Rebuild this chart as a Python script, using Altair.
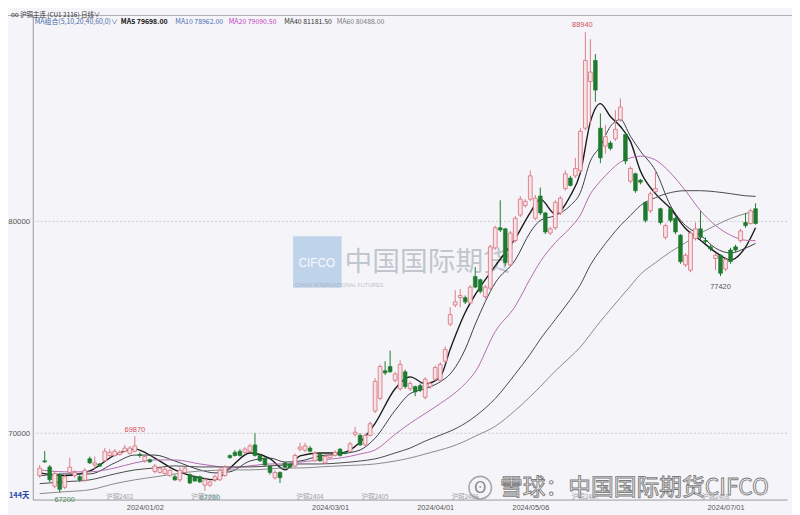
import altair as alt
import pandas as pd

# ---------------- data ----------------
opens = [68000, 68700, 68410, 67500, 68050, 67450, 68150, 68000, 67950, 67780,
         68800, 68500, 68550, 68700, 68950, 68950, 69000, 69150, 69050, 69150,
         69000, 68700, 68750, 68200, 68150, 68100, 68000, 67950, 67800, 68150,
         68050, 67950, 67950, 67550, 67550, 67800, 67800, 68000, 68950, 69100,
         69150, 69100, 69150, 69450, 68950, 68800, 68450, 67900, 68150, 68600,
         68550, 68450, 69250, 69200, 69300, 68700, 69000, 68600, 68850, 68950,
         69250, 69100, 69150, 69950, 69900, 69450, 69900, 71050, 71650, 72950,
         73150, 72500, 72100, 72900, 72100, 72200, 72250, 71700, 72200, 72550,
         72500, 73400, 75150, 76050, 76400, 76400, 76150, 77400, 77250, 76450,
         76850, 78750, 79700, 79650, 77950, 79100, 80300, 80750, 81050, 80150,
         81200, 80400, 79450, 79700, 80400, 81550, 82050, 82150, 82400, 84400,
         86600, 87600, 84400, 83550, 83700, 83900, 84800, 84100, 81900, 82250,
         81950, 80900, 80500, 81400, 80600, 79250, 80600, 80150, 79350, 77950,
         77700, 79200, 79650, 79100, 78800, 78250, 78400, 77750, 78650, 78800,
         79100, 79950, 79900, 80600]
highs = [68500, 69160, 68500, 68200, 68100, 68050, 68850, 68250, 68050, 68350,
         68900, 68900, 68600, 69300, 69250, 69250, 69200, 69450, 69400, 69870,
         69100, 69000, 68800, 68550, 68450, 68400, 68300, 68050, 68400, 68450,
         68100, 68000, 68000, 67900, 67800, 68050, 68350, 68500, 69000, 69200,
         69250, 69350, 69500, 70000, 69000, 68850, 68500, 68250, 68200, 68650,
         68600, 69050, 69550, 69550, 69400, 69150, 69100, 69000, 69050, 69200,
         69300, 69150, 69600, 70300, 70000, 70000, 70550, 72600, 73250, 73400,
         73900, 72900, 73450, 73000, 72450, 72250, 72350, 72650, 72450, 73200,
         73350, 74100, 75950, 76750, 76800, 76500, 77000, 77850, 77300, 77000,
         78900, 79800, 81000, 79700, 79550, 80250, 81200, 81050, 82400, 81250,
         81600, 80450, 79750, 81000, 81200, 82400, 82150, 83000, 84400, 88940,
         88600, 87900, 85100, 84550, 83800, 85250, 85800, 84200, 82600, 82300,
         82000, 80950, 81400, 82400, 80650, 79900, 80700, 80200, 79400, 78500,
         79550, 79950, 80500, 79250, 78900, 78500, 78450, 78300, 78750, 78900,
         79650, 80400, 80600, 80850]
lows = [67900, 68600, 67700, 67400, 67200, 67350, 68100, 67900, 67700, 67700,
        68550, 68300, 68400, 68650, 68850, 68900, 68950, 69100, 69000, 69100,
        68850, 68600, 68600, 68100, 68100, 68000, 67950, 67750, 67700, 68100,
        67600, 67700, 67650, 67280, 67450, 67700, 67750, 67950, 68800, 68900,
        68900, 69000, 69100, 68900, 68650, 68450, 68050, 67800, 67650, 68350,
        68350, 68400, 69150, 69100, 69100, 68650, 68650, 68550, 68800, 68900,
        68900, 69000, 69100, 69850, 69400, 69400, 69850, 70950, 71550, 72750,
        72850, 72400, 72000, 72100, 72000, 71750, 71950, 71600, 72100, 72450,
        72400, 73300, 75050, 75950, 75950, 76100, 76100, 76850, 76600, 76350,
        76750, 78650, 79500, 77900, 77850, 79000, 80200, 80650, 80950, 80050,
        80300, 79400, 79350, 79600, 80300, 81450, 81650, 82050, 82300, 84300,
        84550, 85650, 82750, 83200, 83350, 83800, 84700, 82700, 81800, 81350,
        81750, 79950, 80400, 81350, 79850, 79150, 79950, 79400, 78000, 77850,
        77600, 79100, 79150, 78950, 78600, 77700, 77420, 77650, 78000, 78550,
        79000, 79700, 79850, 79850]
closes = [68350, 68650, 67800, 68100, 67350, 67950, 68400, 68150, 67800, 68250,
          68600, 68600, 68450, 69150, 69100, 69150, 69100, 69300, 69300, 69400,
          68950, 68900, 68650, 68450, 68350, 68300, 68250, 67800, 68250, 68350,
          67650, 67750, 67700, 67800, 67700, 67950, 68250, 68400, 68850, 68950,
          68950, 69250, 69400, 68950, 68700, 68500, 68150, 68150, 67900, 68400,
          68400, 68950, 69350, 69400, 69150, 69050, 68700, 68900, 68950, 69100,
          68950, 69050, 69500, 70050, 69450, 69900, 70450, 72450, 73150, 72850,
          72900, 72800, 73250, 72200, 72350, 71950, 72050, 72550, 72350, 73100,
          73250, 73950, 75600, 76200, 76500, 76200, 76900, 76900, 76700, 76900,
          78800, 79700, 79600, 78050, 79450, 80150, 81050, 80950, 82150, 81100,
          80400, 79500, 79650, 80900, 81100, 82250, 81700, 82500, 84250, 87600,
          87050, 86200, 83000, 84000, 83450, 84350, 85400, 82850, 82500, 81450,
          81850, 80050, 81300, 81550, 79950, 79800, 80050, 79500, 78100, 78400,
          79450, 79650, 79250, 79050, 78700, 78400, 77550, 78200, 78100, 78650,
          79550, 79800, 80500, 79900]

ma_idx = [0, 5, 10, 15, 19, 23, 27, 32, 35, 38, 42, 46, 49, 52, 56, 60, 64, 67,
          71, 74, 77, 80, 82, 85, 87, 91, 95, 98, 100, 103, 106, 108, 110, 112,
          114, 116, 118, 120, 123, 126, 129, 132, 135, 138, 141, 143]
ma5 = [68130, 68000, 68220, 68970, 69250, 68830, 68270, 67900, 67800, 68360,
       69070, 68800, 68270, 68930, 69070, 69070, 69580, 70470, 72100, 72660,
       72340, 72660, 73970, 75700, 76540, 77900, 79200, 80420, 81050, 80350,
       81210, 82290, 84700, 85560, 84950, 84480, 83780, 82380, 81310, 80610,
       79670, 79110, 78550, 78180, 78790, 79698]
ma10 = [67990, 68080, 68080, 68600, 68970, 68970, 68690, 68270, 68130, 68180,
        68690, 68830, 68640, 68690, 68930, 69020, 69210, 69770, 71080, 71870,
        72100, 72430, 72800, 73970, 75140, 77100, 78180, 79490, 80050, 80280,
        80750, 81360, 82850, 83550, 84480, 84810, 84020, 83320, 82400, 80750,
        79810, 79350, 78740, 78510, 78740, 78962]
ma20 = [68270, 68180, 68180, 68360, 68600, 68740, 68740, 68550, 68450, 68360,
        68460, 68550, 68550, 68640, 68740, 68830, 69020, 69210, 69950, 70470,
        70930, 71400, 71730, 72340, 72900, 74800, 76000, 77300, 78100, 79000,
        79700, 80300, 81300, 81900, 82400, 82800, 83000, 83080, 82900, 82290,
        81450, 80510, 79810, 79350, 79110, 79090]
ma40 = [67620, 67710, 67800, 68080, 68270, 68360, 68460, 68410, 68410, 68410,
        68410, 68460, 68500, 68550, 68550, 68600, 68690, 68790, 69070, 69300,
        69630, 69910, 70100, 70470, 70800, 71640, 72800, 73740, 74440, 75370,
        76310, 77010, 77940, 78640, 79250, 79810, 80280, 80750, 81120, 81360,
        81450, 81450, 81400, 81310, 81210, 81181]
ma60 = [67150, 67240, 67330, 67620, 67800, 67940, 68080, 68220, 68250, 68270,
        68270, 68320, 68360, 68360, 68410, 68460, 68500, 68550, 68690, 68830,
        69020, 69210, 69350, 69630, 69860, 70330, 71080, 71730, 72200, 72940,
        73600, 74070, 74670, 75280, 75840, 76400, 76950, 77500, 78050, 78560,
        78990, 79440, 79810, 80140, 80370, 80488]
ma_names = ["MA5", "MA10", "MA20", "MA40", "MA60"]
ma_colors = ["#1a1a1a", "#3c3c48", "#b46aae", "#4a4a4a", "#8a8a8a"]
ma_widths = [1.4, 1.0, 1.0, 1.0, 1.0]

price_ticks = [70000, 80000]
date_ticks = [21, 58, 79, 98, 137]
date_labels = ["2024/01/02", "2024/03/01", "2024/04/01", "2024/05/06", "2024/07/01"]

ext_idx = [109, 19, 33, 4, 136]
ext_val = [88940, 69870, 67280, 67200, 77420]
ext_dy = [-7, -6, 7, 8, 11]
ext_dx = [-3, 0, 5, 5, 0]
ext_col = ["#d2505e", "#d2505e", "#5b8f96", "#4d8a5a", "#555555"]

roll_idx = [16, 33, 54, 67, 85, 109, 135]
roll_text = ["沪铜2402", "沪铜2403", "沪铜2404", "沪铜2405", "沪铜2406", "沪铜2407", "沪铜2408"]

header_title = "oo 沪铜主连 (CU1 2116)  日线∨"
header_ma = ["MA组合(5,10,20,40,60,0)∨", "MA5 79698.00", "MA10 78962.00",
             "MA20 79090.50", "MA40 81181.50", "MA60 80488.00"]
header_ma_x = [2, 89, 144, 198, 254, 307]
header_ma_col = ["#4a6aa8", "#111111", "#4f6db0", "#c040c0", "#333333", "#7a7a7a"]

# ---------------- chart ----------------
N = len(opens)
df = pd.DataFrame({"i": list(range(N)), "open": opens, "high": highs,
                   "low": lows, "close": closes})

xs = alt.Scale(domain=[-0.4, 148.3], nice=False, zero=False)
ys = alt.Scale(domain=[66869, 89720], nice=False, zero=False)

label_expr = " : ".join(
    f"datum.value == {t} ? '{l}'" for t, l in zip(date_ticks, date_labels)) + " : ''"
x_axis = alt.Axis(values=date_ticks, labelExpr=label_expr, title=None, grid=False,
                  ticks=False, domainColor="#9a9a9a", labelColor="#555555",
                  labelFontSize=7.5, labelFont="Liberation Sans", labelPadding=4,
                  labelFlush=False)
y_axis = alt.Axis(values=price_ticks, format="d", title=None, grid=False,
                  ticks=False, domainColor="#9a9a9a", labelColor="#555555",
                  labelFontSize=8, labelFont="Liberation Sans", labelPadding=3)


def X(field):
    return alt.X(field, scale=xs, axis=x_axis)


def Y(field):
    return alt.Y(field, scale=ys, axis=y_axis)


UP_STROKE = "#d97b86"
UP_FILL = "#f8e4e7"
DOWN = "#1d7a2e"

layers = []

# grid lines
grid = alt.Chart(pd.DataFrame({"p": price_ticks})).mark_rule(
    color="#c9c9cf", strokeDash=[2, 2], strokeWidth=1).encode(y=Y("p:Q"))
layers.append(grid)

# top frame line
layers.append(alt.Chart(pd.DataFrame({"a": [0]})).mark_rule(color="#b0b0b6").encode(
    x=alt.value(-25), x2=alt.value(770), y=alt.value(0)))

# center watermark
wm = pd.DataFrame({"t": ["CIFCO"]})
layers.append(alt.Chart(wm).mark_rect(color="#6f9fd8", opacity=0.4).encode(
    x=alt.value(263), x2=alt.value(312), y=alt.value(223), y2=alt.value(275)))
layers.append(alt.Chart(wm).mark_text(color="#ffffff", fontSize=12, font="Liberation Sans",
                                      opacity=0.9).encode(
    x=alt.value(287), y=alt.value(250), text="t:N"))
layers.append(alt.Chart(pd.DataFrame({"t": ["中国国际期货"]})).mark_text(
    color="#8f96a3", fontSize=28, font="Noto Sans CJK SC", align="left", opacity=0.5).encode(
    x=alt.value(315), y=alt.value(250), text="t:N"))
layers.append(alt.Chart(pd.DataFrame({"t": ["CHINA INTERNATIONAL FUTURES"]})).mark_text(
    color="#9aa0aa", fontSize=5.5, font="Liberation Sans", align="left", opacity=0.6).encode(
    x=alt.value(265), y=alt.value(272), text="t:N"))

# MA lines
for name, vals, col, w in zip(ma_names, [ma5, ma10, ma20, ma40, ma60], ma_colors, ma_widths):
    mdf = pd.DataFrame({"i": ma_idx, "v": vals})
    layers.append(alt.Chart(mdf).mark_line(color=col, strokeWidth=w, interpolate="monotone")
                  .encode(x=X("i:Q"), y=Y("v:Q")))

# candles
base = alt.Chart(df)
up_f = "datum.close >= datum.open"
dn_f = "datum.close < datum.open"
layers.append(base.transform_filter(up_f).mark_rule(color=UP_STROKE, strokeWidth=1)
              .encode(x=X("i:Q"), y=Y("low:Q"), y2="high:Q"))
layers.append(base.transform_filter(dn_f).mark_rule(color=DOWN, strokeWidth=1)
              .encode(x=X("i:Q"), y=Y("low:Q"), y2="high:Q"))
layers.append(base.transform_filter(up_f).mark_bar(size=3.8, fill=UP_FILL, stroke=UP_STROKE,
                                                   strokeWidth=0.9)
              .encode(x=X("i:Q"), y=Y("open:Q"), y2="close:Q"))
layers.append(base.transform_filter(dn_f).mark_bar(size=3.8, fill=DOWN, stroke=DOWN,
                                                   strokeWidth=0.6)
              .encode(x=X("i:Q"), y=Y("open:Q"), y2="close:Q"))

# extreme labels
for k in range(len(ext_idx)):
    edf = pd.DataFrame({"i": [ext_idx[k]], "v": [ext_val[k]], "t": [str(ext_val[k])]})
    layers.append(alt.Chart(edf).mark_text(color=ext_col[k], fontSize=7.5,
                                           font="Liberation Sans", dy=ext_dy[k], dx=ext_dx[k])
                  .encode(x=X("i:Q"), y=Y("v:Q"), text="t:N"))

# contract roll labels
rdf = pd.DataFrame({"i": roll_idx, "t": roll_text})
layers.append(alt.Chart(rdf).mark_text(color="#a0a0a0", fontSize=6.5, font="Noto Sans CJK SC")
              .encode(x=X("i:Q"), y=alt.value(486), text="t:N"))

# left bottom label
layers.append(alt.Chart(pd.DataFrame({"t": ["144天"]})).mark_text(
    color="#2a4aa8", fontSize=7.5, font="Noto Sans CJK SC", align="left", fontWeight="bold").encode(
    x=alt.value(-24), y=alt.value(485), text="t:N"))

# bottom watermark
layers.append(alt.Chart(pd.DataFrame({"t": ["X"]})).mark_point(
    shape="circle", size=520, filled=False, color="#8a8a8a", strokeWidth=1.6).encode(
    x=alt.value(452), y=alt.value(477)))
layers.append(alt.Chart(pd.DataFrame({"t": ["ʘ"]})).mark_text(
    fontSize=16, color="#8a8a8a", font="DejaVu Sans").encode(
    x=alt.value(452), y=alt.value(477), text="t:N"))
layers.append(alt.Chart(pd.DataFrame({"t": ["雪球：中国国际期货CIFCO"]})).mark_text(
    fontSize=23, font="Noto Sans CJK SC", align="left", fill="#f2f2f2", stroke="#7d7d7d",
    strokeWidth=0.9).encode(
    x=alt.value(472), y=alt.value(477), text="t:N"))

# header
layers.append(alt.Chart(pd.DataFrame({"t": [header_title]})).mark_text(
    fontSize=6.5, font="Noto Sans CJK SC", align="left", color="#333333").encode(
    x=alt.value(-22), y=alt.value(-1), text="t:N"))
for k in range(len(header_ma)):
    layers.append(alt.Chart(pd.DataFrame({"t": [header_ma[k]]})).mark_text(
        fontSize=7, font="Noto Sans CJK SC", align="left", color=header_ma_col[k],
        fontWeight="bold" if k == 1 else "normal").encode(
        x=alt.value(header_ma_x[k]), y=alt.value(7), text="t:N"))

chart = alt.layer(*layers).properties(
    width=762, height=489,
    autosize=alt.AutoSizeParams(type="none"),
    padding={"left": 25, "top": 5, "right": 5, "bottom": 14},
    background="#f5f5f9",
).configure_view(stroke=None)

chart.save("out.html", embed_options={"renderer": "svg", "actions": False})
